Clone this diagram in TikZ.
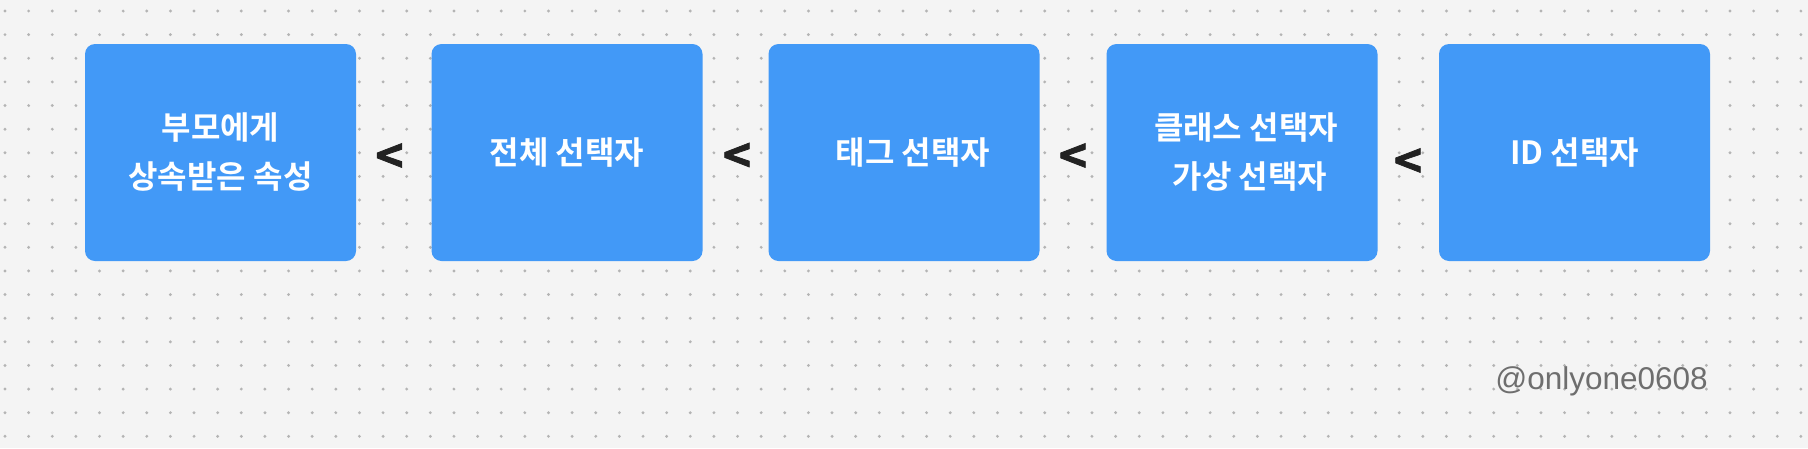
\documentclass[tikz,border=0pt]{standalone}
\usepackage{fontspec}
\setmainfont{Noto Sans CJK KR}[BoldFont={Noto Sans CJK KR Bold}]
\newfontfamily\markfont{Liberation Sans}
\newfontfamily\ltfont{Noto Sans CJK KR Bold}[FakeBold=1.6]
\usepackage{xcolor}
\usetikzlibrary{positioning}

\definecolor{boxblue}{RGB}{66,153,247}
\definecolor{paper}{RGB}{244,244,244}
\definecolor{dotgray}{RGB}{180,180,180}
\definecolor{ink}{RGB}{34,34,34}
\definecolor{markgray}{RGB}{110,110,110}

\begin{document}
\begin{tikzpicture}[
  x=1pt,y=-1pt,
  selector/.style={fill=boxblue,rounded corners=10pt,minimum width=271pt,minimum height=217pt,
    inner sep=0pt,text=white,align=center,font=\bfseries\fontsize{32}{49}\selectfont},
  lessthan/.style={text=ink,inner sep=0pt,font=\ltfont\fontsize{48}{48}\selectfont},
  signature/.style={text=markgray,inner sep=0pt,font=\markfont\fontsize{31.5}{31.5}\selectfont}
]
\fill[paper] (0,0) rectangle (1808,448);
\useasboundingbox (0,0) rectangle (1808,448);
% dot grid
\foreach \i in {0,...,76}
  \foreach \j in {0,...,18}
    \fill[dotgray] ({5+23.63*\i},{11+23.63*\j}) circle[radius=1.6pt];

\node[selector] (inherit) at (220.5,152.5) {부모에게\\상속받은 속성};
\node[selector] (universal) at (567,152.5) {전체 선택자};
\node[selector] (tag) at (904,152.5) {\hspace*{18pt}태그 선택자};
\node[selector] (class) at (1242,152.5) {\hspace*{8pt}클래스 선택자\\\hspace*{16pt}가상 선택자};
\node[selector] (id) at (1574.5,152.5) {ID 선택자};

\node[lessthan] (lt1) at (389.5,158.5) {<};
\node[lessthan] (lt2) at (737,158) {<};
\node[lessthan] (lt3) at (1073,158.5) {<};
\node[lessthan] (lt4) at (1408,163.5) {<};

\node[signature,anchor=base east] (author) at (1708,389) {@onlyone0608};
\end{tikzpicture}
\end{document}
